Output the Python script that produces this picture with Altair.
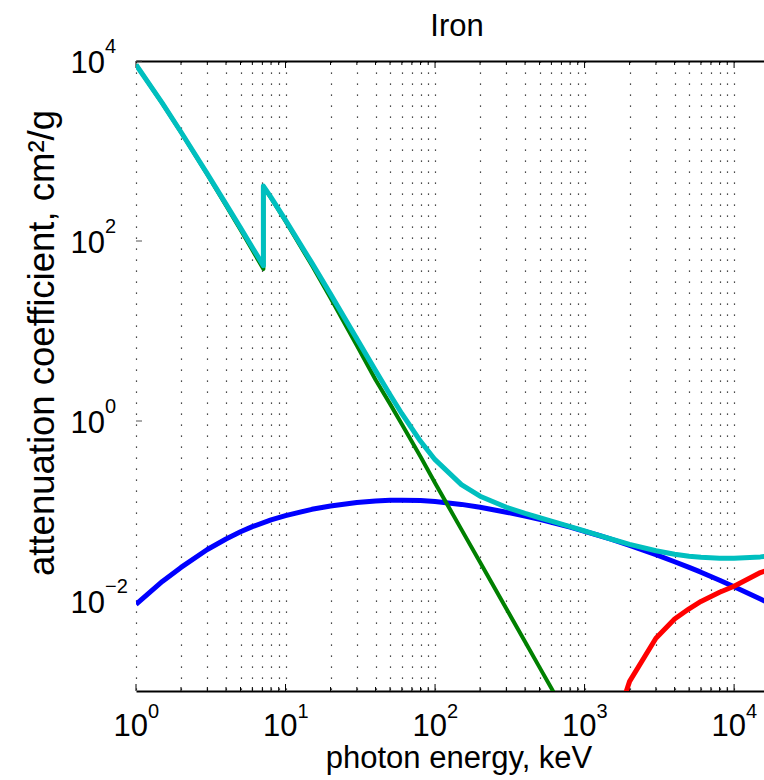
import altair as alt
import pandas as pd

FONT = "Liberation Sans"

# Mass attenuation coefficients of iron, cm^2/g, versus photon energy in keV.
# The K-edge at 7.112 keV appears twice (below / above the edge).
total_kev = [1, 1.5, 2, 3, 4, 5, 6, 7.112, 7.112, 8, 10, 15, 20, 30, 40, 50, 60, 80,
             100, 150, 200, 300, 400, 500, 600, 800, 1000, 1250, 1500, 2000, 3000,
             4000, 5000, 6000, 8000, 10000, 15000, 20000]
total_mu = [9085, 3399, 1626, 557.6, 256.7, 139.8, 84.84, 53.19, 407.6, 305.6, 170.6,
            57.08, 25.68, 8.176, 3.629, 1.958, 1.205, 0.5952, 0.3717, 0.1964, 0.146,
            0.1099, 0.094, 0.08414, 0.07704, 0.06699, 0.05995, 0.0535, 0.04883,
            0.04265, 0.03621, 0.03312, 0.03146, 0.03057, 0.02991, 0.02994, 0.03092,
            0.03224]

photo_kev = [1, 1.5, 2, 3, 4, 5, 6, 7.112, 7.112, 8, 10, 15, 20, 30, 40, 50, 60, 80,
             100, 150, 200, 300, 400, 500, 600, 800]
photo_mu = [9069, 3386, 1614, 548.0, 248.9, 133.0, 79.3, 48.7, 402.4, 300.4, 166.0,
            53.7, 23.3, 6.9, 2.87, 1.55, 0.92, 0.40, 0.205, 0.0625, 0.027, 0.0082,
            0.00352, 0.00183, 0.00107, 0.00046]

compton_kev = [1, 1.5, 2, 3, 4, 5, 6, 8, 10, 15, 20, 30, 40, 50, 60, 80, 100, 150,
               200, 300, 400, 500, 600, 800, 1000, 1250, 1500, 2000, 3000, 4000, 5000,
               6000, 8000, 10000, 15000, 20000]
compton_mu = [0.0092, 0.0165, 0.0236, 0.0373, 0.0489, 0.0587, 0.0670, 0.0795, 0.0888,
              0.1044, 0.1136, 0.1242, 0.1291, 0.1314, 0.1320, 0.1307, 0.1277, 0.1184,
              0.1100, 0.0970, 0.0877, 0.0806, 0.0750, 0.0662, 0.0595, 0.0534, 0.0486,
              0.0415, 0.0327, 0.0273, 0.0236, 0.0209, 0.0170, 0.0144, 0.0105, 0.0084]

pair_kev = [1500, 2000, 3000, 4000, 5000, 6000, 8000, 10000, 15000, 20000]
pair_mu = [0.00030, 0.00128, 0.00385, 0.0063, 0.0082, 0.0099, 0.0125, 0.0146, 0.0207,
           0.0242]

# Axis decorations
x_decades = [1, 10, 100, 1000, 10000]
x_exponents = ["0", "1", "2", "3", "4"]
x_minor = [m * d for d in [1, 10, 100, 1000] for m in range(1, 10)] + [10000]
y_decades = [1e-2, 1e0, 1e2, 1e4]
y_exponents = ["\u22122", "0", "2", "4"]

W, H = 628, 630
X_MAX = 10 ** 4.2

xscale = alt.Scale(type="log", domain=[1, X_MAX], nice=False)
yscale = alt.Scale(type="log", domain=[1e-3, 1e4], nice=False)


def series_frame(e, mu):
    return pd.DataFrame({"E": e, "mu": mu, "idx": range(len(e))})


def curve(e, mu, color, width):
    return alt.Chart(series_frame(e, mu)).mark_line(
        color=color, strokeWidth=width, clip=True, strokeJoin="round"
    ).encode(
        x=alt.X("E:Q", scale=xscale, axis=None),
        y=alt.Y("mu:Q", scale=yscale, axis=None),
        order="idx:Q",
    )


# Bottom axis line with the dotted vertical grid
grid_df = pd.DataFrame({"E": x_minor})
base_axes = alt.Chart(grid_df).mark_point(opacity=0).encode(
    x=alt.X("E:Q", scale=xscale, axis=alt.Axis(
        values=x_minor, grid=True, gridDash=[1.2, 9.8], gridColor="#111",
        gridOpacity=1, gridWidth=1.2, labels=False, ticks=False, domain=True,
        domainColor="#000", domainWidth=2, title=None)),
    y=alt.Y("v:Q", scale=yscale, axis=alt.Axis(
        grid=False, labels=False, ticks=False, domain=True, domainColor="#000",
        domainWidth=2, title=None)),
).transform_calculate(v="1")

# Top axis line and inward ticks
major_df = pd.DataFrame({"E": x_decades})
minor_df = pd.DataFrame({"E": [v for v in x_minor if v not in x_decades]})

top_line = alt.Chart(major_df).mark_rule(color="#000", strokeWidth=1).encode(
    x=alt.X("E:Q", scale=xscale, axis=alt.Axis(
        orient="top", labels=False, ticks=False, grid=False, domain=True,
        domainColor="#000", domainWidth=2, title=None)),
    y=alt.value(0), y2=alt.value(7),
)
top_minor = alt.Chart(minor_df).mark_rule(color="#000", strokeWidth=1).encode(
    x=alt.X("E:Q", scale=xscale, axis=None), y=alt.value(0), y2=alt.value(4))
bottom_major = alt.Chart(major_df).mark_rule(color="#000", strokeWidth=1).encode(
    x=alt.X("E:Q", scale=xscale, axis=None), y=alt.value(H), y2=alt.value(H - 7))
bottom_minor = alt.Chart(minor_df).mark_rule(color="#000", strokeWidth=1).encode(
    x=alt.X("E:Q", scale=xscale, axis=None), y=alt.value(H), y2=alt.value(H - 4))

ylab_df = pd.DataFrame({"v": y_decades, "exp": y_exponents, "base": "10"})
left_ticks = alt.Chart(ylab_df).mark_rule(color="#555", strokeWidth=1).encode(
    y=alt.Y("v:Q", scale=yscale, axis=None), x=alt.value(0), x2=alt.value(6))

# Tick labels as powers of ten
xlab_df = pd.DataFrame({"E": x_decades, "exp": x_exponents, "base": "10"})
x_base = alt.Chart(xlab_df).mark_text(
    font=FONT, fontSize=31, align="right", baseline="alphabetic", dx=12, color="#000"
).encode(x=alt.X("E:Q", scale=xscale, axis=None), y=alt.value(H + 44.7), text="base:N")
x_exp = alt.Chart(xlab_df).mark_text(
    font=FONT, fontSize=20, align="left", baseline="alphabetic", dx=12, color="#000"
).encode(x=alt.X("E:Q", scale=xscale, axis=None), y=alt.value(H + 27.3), text="exp:N")

y_base = alt.Chart(ylab_df).mark_text(
    font=FONT, fontSize=31, align="right", baseline="alphabetic", dy=12.3, color="#000"
).encode(y=alt.Y("v:Q", scale=yscale, axis=None), x=alt.value(-31), text="base:N")
y_exp = alt.Chart(ylab_df).mark_text(
    font=FONT, fontSize=20, align="left", baseline="alphabetic", dy=-8.3, color="#000"
).encode(y=alt.Y("v:Q", scale=yscale, axis=None), x=alt.value(-31), text="exp:N")

# Titles
text_df = pd.DataFrame({
    "label": ["Iron", "photon energy, keV", "attenuation coefficient, cm\u00b2/g"],
})
title_mark = alt.Chart(text_df).transform_filter(alt.datum.label == "Iron").mark_text(
    font=FONT, fontSize=31, align="center", baseline="alphabetic", color="#000"
).encode(text="label:N", x=alt.value(321), y=alt.value(-25))
xtitle_mark = alt.Chart(text_df).transform_filter(
    alt.datum.label == "photon energy, keV").mark_text(
    font=FONT, fontSize=31, align="center", baseline="alphabetic", color="#000"
).encode(text="label:N", x=alt.value(323), y=alt.value(H + 77))
ytitle_mark = alt.Chart(text_df).transform_filter(
    alt.datum.label == "attenuation coefficient, cm\u00b2/g").mark_text(
    font=FONT, fontSize=36.5, align="center", baseline="alphabetic", angle=270,
    color="#000"
).encode(text="label:N", x=alt.value(-82), y=alt.value(282))

chart = alt.layer(
    base_axes,
    top_line, top_minor, bottom_major, bottom_minor, left_ticks,
    curve(compton_kev, compton_mu, "#0000ff", 5),
    curve(photo_kev, photo_mu, "#008000", 4),
    curve(pair_kev, pair_mu, "#ff0000", 5),
    curve(total_kev, total_mu, "#00bfbf", 5),
    x_base, x_exp, y_base, y_exp,
    title_mark, xtitle_mark, ytitle_mark,
).resolve_axis(x="independent").properties(
    width=W, height=H,
    padding={"left": 136, "top": 61, "right": 0, "bottom": 89},
    autosize=alt.AutoSizeParams(type="none"),
    background="white",
).configure_view(stroke=None)

chart.save("out.html", embed_options={"renderer": "svg", "actions": False})
